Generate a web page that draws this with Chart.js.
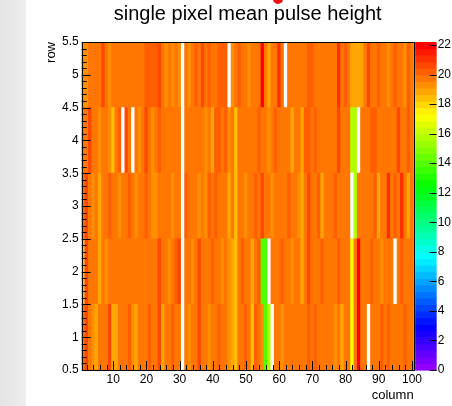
<!DOCTYPE html>
<html>
<head>
<meta charset="utf-8">
<script src="https://cdn.jsdelivr.net/npm/chart.js@4.4.0/dist/chart.umd.min.js"></script>
<style>
  html, body { margin: 0; padding: 0; background: #fff; }
  #wrap { position: relative; width: 452px; height: 406px; overflow: hidden; }
  #side { position: absolute; left: 0; top: 0; width: 26px; height: 406px; background: linear-gradient(to right, #e3e3e3, #eeeeee); }
  #dot { position: absolute; left: 273px; top: -6px; width: 10px; height: 10px; border-radius: 50%; background: #f01010; }
  canvas { position: absolute; left: 0; top: 0; }
</style>
</head>
<body>
<div id="wrap">
  <div id="side"></div>
  <div id="dot"></div>
  <canvas id="pulseGraph" width="452" height="406"></canvas>
</div>
<script>
// mean pulse height per pixel, one array per row (null = empty bin)
const row1 = [
  19.9, 20.6, 19.9, 19.4, 19.0, 19.9, 19.9, 19.9, 20.6, 19.0,
  19.0, 19.9, 19.9, 19.9, 20.4, 19.4, 19.0, 19.9, 19.9, 19.9,
  20.4, 19.9, 19.9, 20.6, 19.0, 19.9, 19.9, 20.4, 19.9, 19.9,
  null, 19.9, 19.4, 19.9, 19.9, 20.6, 19.9, 19.9, 19.4, 19.9,
  19.9, 20.4, 19.9, 19.9, 19.4, 19.0, 18.4, 19.9, 19.9, 20.4,
  19.9, 18.4, 20.4, 19.9, 19.4, 14.0, 15.8, null, 19.9, 19.9,
  19.4, 19.9, 19.9, 19.9, 19.9, 19.9, 19.9, 19.9, 20.4, 19.9,
  20.4, 19.9, 19.9, 19.9, 19.9, 19.9, 19.4, 19.9, 19.0, 19.9,
  19.9, 17.2, 19.9, 22.2, 19.9, 19.9, null, 19.9, 19.9, 19.9,
  20.4, 19.9, 20.4, 19.9, 19.9, 19.9, 19.9, 20.4, 19.9, 19.9
];
const row2 = [
  18.4, 20.6, 19.9, 19.9, 19.9, 19.0, 19.9, 19.4, 19.9, 19.9,
  19.9, 19.9, 19.9, 19.9, 19.9, 19.9, 19.9, 19.9, 19.9, 19.9,
  19.9, 19.9, 19.9, 20.6, 19.9, 19.9, 19.4, 19.9, 20.4, 20.6,
  null, 19.9, 19.9, 19.4, 19.9, 20.6, 19.9, 19.9, 19.9, 20.4,
  19.9, 19.9, 19.4, 19.9, 19.4, 19.0, 18.4, 19.9, 20.4, 19.9,
  19.9, 19.0, 19.9, 20.4, 14.0, 14.0, null, 19.9, 19.9, 19.9,
  20.4, 19.9, 19.9, 19.4, 19.9, 19.9, 19.0, 19.9, 20.6, 19.9,
  19.9, 19.9, 20.4, 19.9, 19.9, 19.9, 19.9, 20.4, 19.9, 19.9,
  19.9, 17.2, 19.9, 22.2, 19.9, 19.9, 19.9, 20.4, 19.9, 19.9,
  19.4, 19.9, 19.9, 19.9, null, 19.9, 20.4, 19.9, 19.9, 19.9
];
const row3 = [
  19.9, 20.6, 19.9, 19.4, 19.9, 19.0, 19.9, 19.9, 20.4, 19.9,
  19.9, 19.4, 19.9, 19.9, 20.4, 19.9, 19.4, 19.9, 19.9, 20.4,
  19.9, 19.4, 19.4, 19.9, 19.9, 19.9, 19.9, 19.4, 19.9, 19.9,
  null, 20.4, 19.9, 19.9, 19.9, 19.4, 19.9, 19.4, 20.4, 19.9,
  20.4, 19.9, 19.9, 19.9, 19.0, 19.9, 18.4, 19.9, 19.9, 19.4,
  19.9, 19.9, 20.4, 19.9, 20.6, 19.9, 19.9, 19.4, 19.9, 19.9,
  19.9, 19.9, 20.4, 19.9, 19.9, 19.4, 19.0, 19.9, 20.6, 19.9,
  19.9, 20.4, 19.0, 19.9, 19.9, 19.9, 20.4, 19.9, 19.9, 19.9,
  19.9, null, 15.8, 19.9, 19.9, 19.9, 19.9, 19.9, 20.4, 19.0,
  19.9, 19.9, 20.9, 19.9, 20.4, 19.9, 20.9, 19.9, 19.0, 19.9
];
const row4 = [
  19.9, 19.9, 20.6, 19.9, 19.9, 19.4, 19.9, 19.9, 19.4, 18.4,
  19.9, 20.4, null, 20.6, 19.9, null, 19.9, 19.4, 19.9, 20.6,
  19.9, 19.4, 19.9, 20.4, 19.9, 19.9, 19.9, 19.9, 19.9, 19.9,
  null, 19.9, 19.9, 19.9, 19.9, 19.9, 19.9, 19.4, 19.9, 19.0,
  20.4, 20.4, 19.9, 20.4, 19.4, 19.9, 18.4, 19.9, 19.9, 19.9,
  19.9, 19.9, 19.9, 20.4, 19.9, 19.9, 19.4, 19.9, 20.4, 19.9,
  19.9, 19.9, 19.9, 19.0, 19.9, 19.9, 19.0, 20.4, 20.4, 19.9,
  20.4, 19.9, 19.9, 19.9, 19.9, 19.9, 19.9, 20.6, 19.9, 19.9,
  19.9, 15.8, 15.8, null, 19.9, 19.9, 19.9, 20.4, 20.4, 19.9,
  19.9, 19.9, 19.9, 19.9, 19.9, 20.6, 19.9, 19.9, 20.4, 19.9
];
const row5 = [
  19.4, 19.4, 19.9, 19.9, 19.9, 19.9, 20.6, 19.9, 19.4, 19.9,
  19.9, 19.9, 19.9, 19.9, 19.9, 19.9, 19.9, 19.9, 19.9, 20.4,
  20.4, 20.4, 20.4, 20.6, 19.9, 19.4, 19.9, 19.4, 19.9, 19.4,
  null, 19.9, 19.4, 19.9, 20.4, 19.9, 20.6, 19.9, 20.4, 19.9,
  19.9, 20.4, 20.4, 20.4, null, 19.4, 19.9, 20.4, 19.9, 19.9,
  19.4, 19.9, 19.9, 19.9, 22.2, 19.9, 19.0, 19.9, 19.9, 20.9,
  19.9, null, 19.9, 19.9, 19.9, 19.9, 19.9, 19.9, 20.4, 20.4,
  19.9, 19.9, 19.9, 19.9, 19.9, 19.9, 19.9, 20.9, 19.9, 20.4,
  19.9, 19.0, 19.0, 19.0, 19.0, 19.9, 20.6, 19.9, 19.9, 20.4,
  19.9, 19.9, 19.4, 19.9, 20.4, 19.9, 19.9, 19.4, 20.4, 19.9
];
const rowValues = [row1, row2, row3, row4, row5];
const rowNumbers = [1, 2, 3, 4, 5];
const columnNumbers = Array.from({length: 100}, (_, i) => i + 1);

const xTickValues = [10, 20, 30, 40, 50, 60, 70, 80, 90, 100];
const yTickValues = [0.5, 1, 1.5, 2, 2.5, 3, 3.5, 4, 4.5, 5, 5.5];
const zTickValues = [0, 2, 4, 6, 8, 10, 12, 14, 16, 18, 20, 22];
const zMax = 22.2;
const paletteSteps = 50;

// ROOT "pretty palette": hue runs from violet down to red
function paletteColor(k) {
    const bin = Math.max(0, Math.min(paletteSteps - 1, k));
    const hue = 280 - (bin + 1) * (280 / paletteSteps);
    return `hsl(${hue}, 100%, 50%)`;
}

function colorFor(value) {
    if (value === null) return '#ffffff';
    return paletteColor(Math.floor(paletteSteps * value / zMax));
}

// Draws the inside ticks, frame and colour palette the ROOT way
const rootFrame = {

    id: 'rootFrame',
    beforeDatasetsDraw(chart) {

        const {ctx, chartArea: a} = chart;
        ctx.save();
        ctx.fillStyle = colorFor(19.9);
        ctx.fillRect(a.left, a.top, a.right - a.left, a.bottom - a.top);
        ctx.restore();
    },
    afterDatasetsDraw(chart) {

        const {ctx, chartArea: a, scales} = chart;
        ctx.save();
        ctx.strokeStyle = '#000';
        ctx.lineWidth = 1;
        ctx.beginPath();

        // y axis: major every 0.5, minor every 0.1
        for (let i = 0; i <= 50; i++) {
            const v = 0.5 + i * 0.1;
            const py = Math.round(scales.y.getPixelForValue(v)) + 0.5;
            const len = (i % 5 === 0) ? 9 : 5;
            ctx.moveTo(a.left, py);
            ctx.lineTo(a.left + len, py);
        }
        // x axis: major every 10, minor every 2
        for (let v = 2; v <= 100; v += 2) {
            const px = Math.round(scales.x.getPixelForValue(v)) + 0.5;
            const len = (v % 10 === 0) ? 9 : 5;
            ctx.moveTo(px, a.bottom);
            ctx.lineTo(px, a.bottom - len);
        }
        ctx.stroke();
        ctx.strokeRect(Math.round(a.left) + 0.5, Math.round(a.top) + 0.5,
            Math.round(a.right - a.left), Math.round(a.bottom - a.top));
        ctx.restore();
    },
    afterDraw(chart) {

        const {ctx} = chart;
        const z = chart.scales.z;
        const left = z.left + 1.5;
        const width = 21.5;
        ctx.save();
        for (let k = 0; k < paletteSteps; k++) {
            const y0 = z.getPixelForValue(k * zMax / paletteSteps);
            const y1 = z.getPixelForValue((k + 1) * zMax / paletteSteps);
            ctx.fillStyle = paletteColor(k);
            ctx.fillRect(left, y1, width, y0 - y1 + 0.6);
        }
        ctx.strokeStyle = '#000';
        ctx.beginPath();
        zTickValues.forEach(v => {
            const py = Math.round(z.getPixelForValue(v)) + 0.5;
            ctx.moveTo(left + width - 7, py);
            ctx.lineTo(left + width, py);
        });
        ctx.stroke();
        ctx.restore();
    }
};

Chart.defaults.font.family = '"Liberation Sans", Arial, sans-serif';
Chart.defaults.color = '#000';

const datasets = rowNumbers.map((r, ri) => ({
    label: `row ${r}`,
    data: columnNumbers.map(c => ({x: c, y: [r - 0.5, r + 0.5]})),
    backgroundColor: rowValues[ri].map(colorFor),
    borderWidth: 0,
    borderSkipped: false,
    barPercentage: 1,
    categoryPercentage: 1,
    grouped: false,
    yAxisID: 'y'
}));

function initializeChart() {

    const ctx = document.getElementById('pulseGraph').getContext('2d');

    new Chart(ctx, {

        type: 'bar',
        data: {datasets},
        options: {

            responsive: false,
            animation: false,
            events: [],
            layout: {padding: {left: 43.4, right: 0, top: 0, bottom: 3.3}},
            plugins: {

                legend: {display: false},
                tooltip: {enabled: false},
                title: {
                    display: true,
                    text: 'single pixel mean pulse height',
                    font: {size: 20, weight: 'normal'},
                    color: '#000',
                    padding: {top: 2, bottom: 16}
                }
            },
            scales: {

                x: {
                    type: 'linear',
                    min: 0.5,
                    max: 100.5,
                    offset: false,
                    afterBuildTicks: s => { s.ticks = xTickValues.map(v => ({value: v})); },
                    ticks: {
                        autoSkip: false, maxRotation: 0, padding: 2,
                        font: {size: 12},
                        callback: v => String(v)
                    },
                    grid: {display: false, drawTicks: false},
                    border: {display: false},
                    title: {
                        display: true, text: 'column', align: 'end',
                        font: {size: 13, lineHeight: 1.1}, padding: 0
                    }
                },
                y: {
                    type: 'linear',
                    min: 0.5,
                    max: 5.5,
                    afterBuildTicks: s => { s.ticks = yTickValues.map(v => ({value: v})); },
                    ticks: {padding: 3, font: {size: 12}, callback: v => String(v)},
                    grid: {display: false, drawTicks: false},
                    border: {display: false},
                    title: {
                        display: true, text: 'row', align: 'end',
                        font: {size: 13}, padding: 0
                    }
                },
                z: {
                    type: 'linear',
                    axis: 'y',
                    position: 'right',
                    min: 0,
                    max: zMax,
                    afterBuildTicks: s => { s.ticks = zTickValues.map(v => ({value: v})); },
                    ticks: {padding: 1, font: {size: 12}, callback: v => String(v)},
                    grid: {display: true, drawOnChartArea: false, tickLength: 23, color: 'rgba(0,0,0,0)'},
                    border: {display: false}
                }
            }
        },
        plugins: [rootFrame]
    });
}

window.onload = function () {

    initializeChart();
};
</script>
</body>
</html>
